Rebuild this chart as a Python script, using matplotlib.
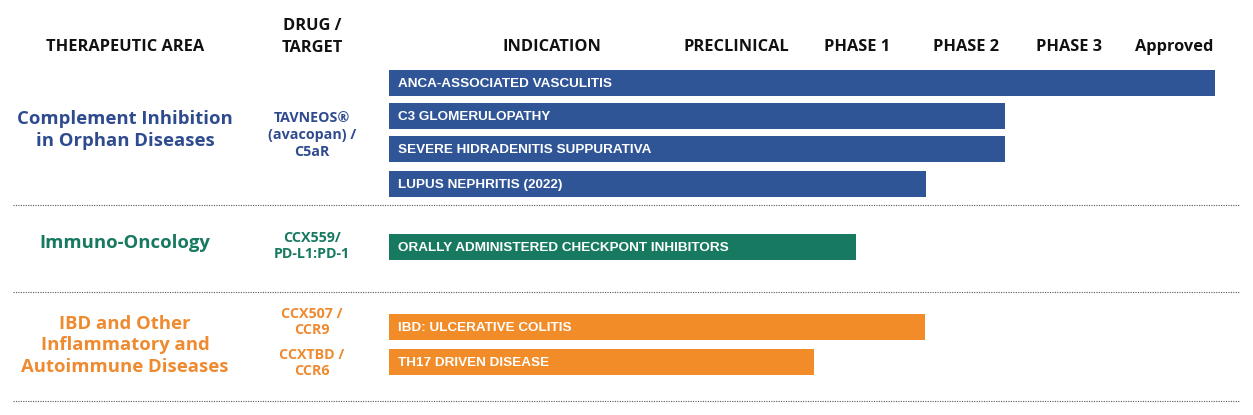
import matplotlib
matplotlib.use("Agg")
import matplotlib.pyplot as plt
from matplotlib.lines import Line2D

# ---------------- data ----------------
stages = ["PRECLINICAL", "PHASE 1", "PHASE 2", "PHASE 3", "Approved"]
areas = ["Complement Inhibition\nin Orphan Diseases", "Immuno-Oncology",
         "IBD and Other\nInflammatory and\nAutoimmune Diseases"]
drugs = [["TAVNEOS®\n(avacopan) /\nC5aR"], ["CCX559/\nPD-L1:PD-1"],
         ["CCX507 /\nCCR9", "CCXTBD /\nCCR6"]]
indications = ["ANCA-ASSOCIATED VASCULITIS", "C3 GLOMERULOPATHY",
               "SEVERE HIDRADENITIS SUPPURATIVA", "LUPUS NEPHRITIS (2022)",
               "ORALLY ADMINISTERED CHECKPONT INHIBITORS",
               "IBD: ULCERATIVE COLITIS", "TH17 DRIVEN DISEASE"]
indication_area = [0, 0, 0, 0, 1, 2, 2]
# progress in stage units (1 = Preclinical column ... 5 = Approved column)
progress = [5.38, 3.46, 3.46, 2.74, 2.10, 2.73, 1.71]

# ---------------- style ----------------
colors = ["#2F5597", "#177A60", "#F28C28"]
text_colors = ["#2F4B8F", "#177A60", "#EE8A30"]
W, H = 1253, 415
fig = plt.figure(figsize=(W / 100, H / 100), dpi=100)
ax = fig.add_axes([0, 0, 1, 1])
ax.set_xlim(0, W)
ax.set_ylim(H, 0)
ax.axis("off")

FONT = ["Open Sans", "DejaVu Sans"]
NARROW = ["Liberation Sans Narrow", "Liberation Sans", "DejaVu Sans"]

def stage_x(v):
    # layout mapping of stage units to pixel-like axis units
    return 626.75 + 109.25 * v

bar_left = 389
bar_rows = [83, 116, 149, 184, 247, 327, 362]
bar_h = 26

for lab, a, p, y in zip(indications, indication_area, progress, bar_rows):
    ax.barh(y, stage_x(p) - bar_left, left=bar_left, height=bar_h,
            color=colors[a], edgecolor="none")
    ax.text(bar_left + 9, y + 1, lab, ha="left", va="center", color="white",
            fontsize=9.7, fontweight="bold", family=NARROW)

# headers
hdr = dict(fontsize=11.8, fontweight="bold", family=FONT, color="#111111",
           va="center", ha="center")
ax.text(125, 47, "THERAPEUTIC AREA", **hdr)
ax.text(312, 37, "DRUG /\nTARGET", linespacing=1.5, **hdr)
ax.text(552, 47, "INDICATION", **hdr)
stage_px = [736, 857, 966, 1069, 1174]
for s, x in zip(stages, stage_px):
    ax.text(x, 47, s, **hdr)

# area titles
area_y = [130, 243, 345]
for i, (a, y) in enumerate(zip(areas, area_y)):
    ax.text(125, y, a, ha="center", va="center", fontsize=13.3,
            fontweight="bold", family=FONT, color=text_colors[i],
            linespacing=1.25)

drug_y = [[135], [246], [322, 363]]
for i, (ds, ys) in enumerate(zip(drugs, drug_y)):
    for d, y in zip(ds, ys):
        ax.text(312, y, d, ha="center", va="center", fontsize=10.3,
                fontweight="bold", family=FONT, color=text_colors[i],
                linespacing=1.25)

# dotted separators
for y in [205, 292, 401]:
    ax.add_line(Line2D([13, 1240], [y, y], color="#555555", lw=0.8,
                       linestyle=(0, (1, 1.2))))

fig.savefig("out.png", dpi=100)
